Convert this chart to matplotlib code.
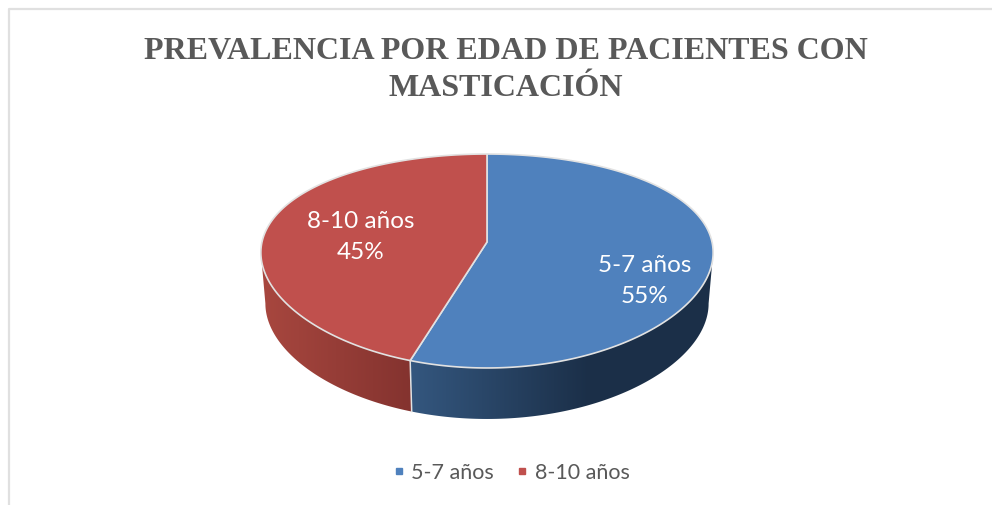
import numpy as np
import matplotlib
matplotlib.use('Agg')
import matplotlib.pyplot as plt
from matplotlib.colors import LinearSegmentedColormap
from matplotlib.lines import Line2D
from matplotlib.patches import Polygon

title = 'PREVALENCIA POR EDAD DE PACIENTES CON\nMASTICACIÓN'
categories = ['5-7 años', '8-10 años']
values = [55, 45]
colors = ['#4f81bd', '#c0504d']
wall_colors = [['#34577f', '#1b2f48'], ['#a8473f', '#84332f']]
label_pos = [(645, 281), (361, 237)]

LABEL_FONT = ['Lato', 'DejaVu Sans']

# pie geometry in image pixels
cx, tip_y = 487, 242
rx, b = 225, 103.6
kx, ky = 0.1, 0.1776
depth = 51
shrink = 0.98  # bottom rim is a bit narrower than the top
edge = '#e2e2e2'


def project(theta):
    # theta in degrees, clockwise from 12 o'clock
    t = np.radians(theta)
    x, y = np.sin(t), np.cos(t)
    return cx + rx * x / (1 + kx * y), tip_y - b * y / (1 + ky * y)


fig = plt.figure(figsize=(9.92, 5.05), dpi=100)
ax = fig.add_axes([0, 0, 1, 1])

# chart frame, open on the right and at the bottom
ax.plot([9, 9, 992], [505, 9, 9], color='#e0e0e0', lw=1.6, zorder=1)

# which part of the rim shows a side wall
grid = np.linspace(0, 360, 3601)
gx = project(grid)[0]
t_right, t_left = grid[np.argmax(gx)], grid[np.argmin(gx)]

stops = np.cumsum([0] + values) / sum(values) * 360

for i, cat in enumerate(categories):
    t0, t1 = stops[i], stops[i + 1]

    # side wall with horizontal gradient
    w0, w1 = max(t0, t_right), min(t1, t_left)
    if w1 > w0:
        th = np.linspace(w0, w1, 200)
        px, py = project(th)
        qx = cx + (px - cx) * shrink
        pts = np.vstack([np.column_stack([px, py]),
                         np.column_stack([qx[::-1], py[::-1] + depth])])
        wall = Polygon(pts, closed=True, facecolor='none', edgecolor='none')
        ax.add_patch(wall)
        cmap = LinearSegmentedColormap.from_list('wall%d' % i, wall_colors[i])
        if i == 0:
            ext = [px.min(), 590, py.max() + depth, py.min()]
        else:
            ext = [px.min(), px.max(), py.max() + depth, py.min()]
        im = ax.imshow(np.linspace(0, 1, 256).reshape(1, -1), cmap=cmap, aspect='auto',
                       extent=ext, zorder=2, interpolation='bilinear')
        if i == 0:
            # dark part carries on past the gradient
            ax.fill_between([590, px.max() + 1], py.min(), py.max() + depth,
                            color=wall_colors[0][-1], zorder=2, lw=0).set_clip_path(wall)
        im.set_clip_path(wall)

    # top face
    th = np.linspace(t0, t1, 300)
    px, py = project(th)
    pts = np.vstack([[cx, tip_y], np.column_stack([px, py])])
    ax.add_patch(Polygon(pts, closed=True, facecolor=colors[i], edgecolor=edge,
                         lw=1.2, joinstyle='round', zorder=3))

    # label
    lx, ly = label_pos[i]
    ax.text(lx, ly, '%s\n%d%%' % (cat, values[i]), color='white', ha='center', va='center',
            fontsize=17.5, family=LABEL_FONT, linespacing=1.55, zorder=4)

# divider on the wall between the two slices
bx, by = project(stops[1])
ax.plot([bx, cx + (bx - cx) * shrink], [by, by + depth], color=edge, lw=1.1, zorder=3)

ax.text(505.5, 70, title, color='#595959', ha='center', va='center', fontsize=23,
        family='Liberation Serif', weight='bold', linespacing=1.35)

handles = [Line2D([], [], ls='', marker='s', ms=5, color=c) for c in colors]
leg = ax.legend(handles, categories, ncol=2, loc='center', bbox_to_anchor=(511 / 992, 1 - 473 / 505),
                frameon=False, handlelength=0.6, handletextpad=0.3, columnspacing=1.0,
                prop={'family': LABEL_FONT, 'size': 15.5}, labelcolor='#595959')

ax.set_xlim(0, 992)
ax.set_ylim(505, 0)
ax.axis('off')
fig.savefig('out.png', dpi=100, facecolor='white')
